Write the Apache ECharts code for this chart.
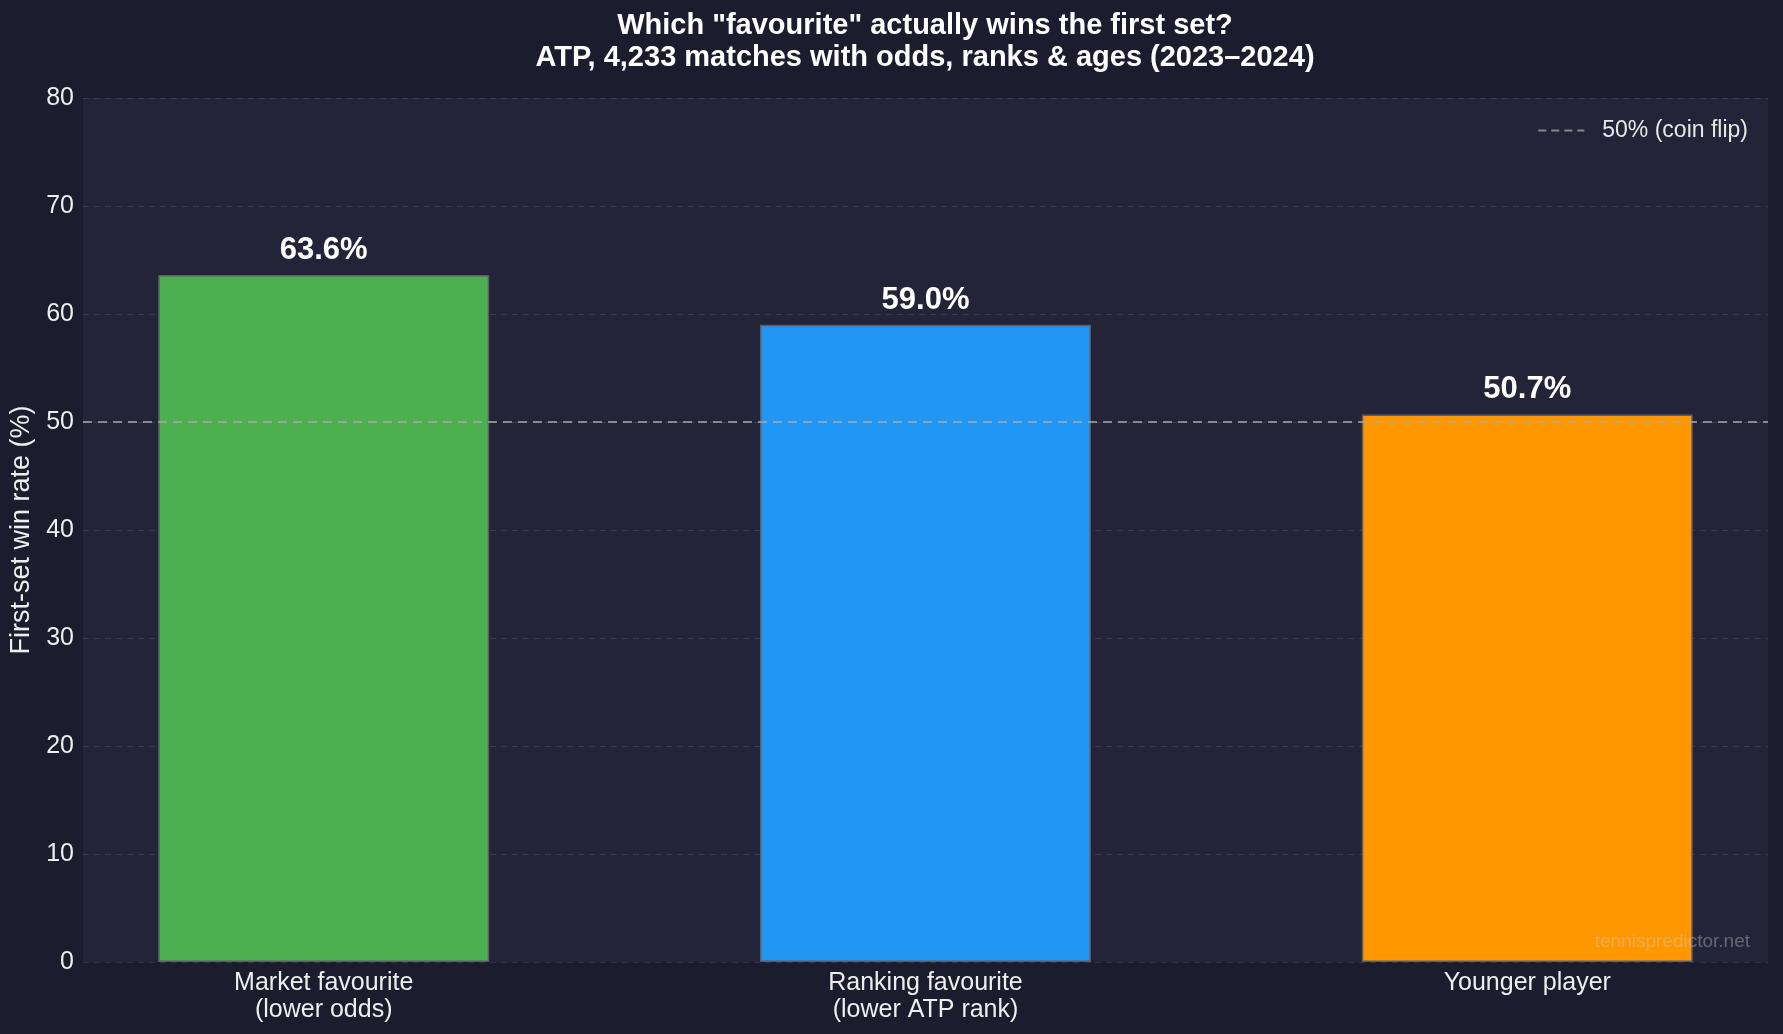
<!DOCTYPE html>
<html>
<head>
<meta charset="utf-8">
<script src="https://cdn.jsdelivr.net/npm/echarts@6/dist/echarts.min.js"></script>
<style>
  html, body { margin: 0; padding: 0; background: #1b1c2e; }
  #main { width: 1783px; height: 1034px; }
</style>
</head>
<body>
<div id="main"></div>
<script>
// chart data
var categories = ['Market favourite\n(lower odds)', 'Ranking favourite\n(lower ATP rank)', 'Younger player'];
var winRates = [63.6, 59.0, 50.7];
var barColors = ['#4caf50', '#2196f3', '#ff9800'];
var yTicks = [0, 10, 20, 30, 40, 50, 60, 70, 80];
var coinFlip = 50;

var FONT = '"Liberation Sans", Arial, Helvetica, sans-serif';

function chart() {
    var myChart = echarts.init(document.getElementById('main'));

    var barData = winRates.map(function (v, i) {
        return { value: [i, v], itemStyle: { color: barColors[i] } };
    });

    var option = {
        backgroundColor: '#1b1c2e',
        textStyle: { fontFamily: FONT },
        title: {
            text: 'Which "favourite" actually wins the first set?\nATP, 4,233 matches with odds, ranks & ages (2023\u20132024)',
            left: 925,
            top: 10,
            padding: 0,
            textAlign: 'center',
            textStyle: {
                color: '#ffffff',
                fontFamily: FONT,
                fontWeight: 'bold',
                fontSize: 29,
                lineHeight: 32
            }
        },
        legend: {
            right: 30,
            top: 114,
            itemWidth: 46,
            itemHeight: 14,
            itemGap: 10,
            itemStyle: { opacity: 0 },
            lineStyle: { color: 'rgba(170,170,170,0.75)', width: 2, type: [8, 5] },
            textStyle: { color: '#e8e8e8', fontSize: 23, fontFamily: FONT, padding: [0, 0, 0, 13] },
            data: ['50% (coin flip)']
        },
        grid: {
            left: 83,
            right: 15,
            top: 98,
            bottom: 72,
            show: true,
            backgroundColor: '#232438',
            borderWidth: 0
        },
        xAxis: {
            type: 'value',
            min: -0.4,
            max: 2.4,
            splitLine: { show: false },
            axisLine: { show: false },
            axisTick: { show: false },
            axisLabel: {
                customValues: [0, 1, 2],
                formatter: function (v) { return categories[Math.round(v)]; },
                color: '#eeeeee',
                fontSize: 25,
                lineHeight: 27,
                margin: 8,
                fontFamily: FONT
            }
        },
        yAxis: {
            type: 'value',
            min: yTicks[0],
            max: yTicks[yTicks.length - 1],
            interval: 10,
            name: 'First-set win rate (%)',
            nameLocation: 'middle',
            nameGap: 42,
            nameTextStyle: { color: '#eeeeee', fontSize: 27, fontFamily: FONT },
            axisLine: { show: false },
            axisTick: { show: false },
            axisLabel: { color: '#eeeeee', fontSize: 25, margin: 9, fontFamily: FONT },
            splitLine: {
                show: true,
                lineStyle: { color: 'rgba(255,255,255,0.10)', type: [6, 5], width: 1.2 }
            }
        },
        series: [{
            name: 'rate',
            type: 'bar',
            barWidth: 331,
            data: barData,
            itemStyle: { borderColor: '#5c5c66', borderWidth: 1.5 },
            label: {
                show: true,
                position: 'top',
                distance: 9,
                color: '#ffffff',
                fontWeight: 'bold',
                fontSize: 31,
                fontFamily: FONT,
                formatter: function (p) { return p.value[1].toFixed(1) + '%'; }
            },
            z: 2
        }, {
            name: '50% (coin flip)',
            type: 'line',
            data: [[-0.4, coinFlip], [2.4, coinFlip]],
            symbol: 'none',
            lineStyle: { color: 'rgba(170,170,170,0.75)', width: 2, type: [9, 6] },
            itemStyle: { color: 'rgba(170,170,170,0.75)' },
            z: 5,
            silent: true
        }],
        graphic: [{
            type: 'text',
            right: 33,
            top: 932,
            style: {
                text: 'tennispredictor.net',
                fill: 'rgba(200,200,200,0.4)',
                font: '19px ' + FONT
            },
            z: 10
        }]
    };
    myChart.setOption(option);
}
chart();
</script>
</body>
</html>
